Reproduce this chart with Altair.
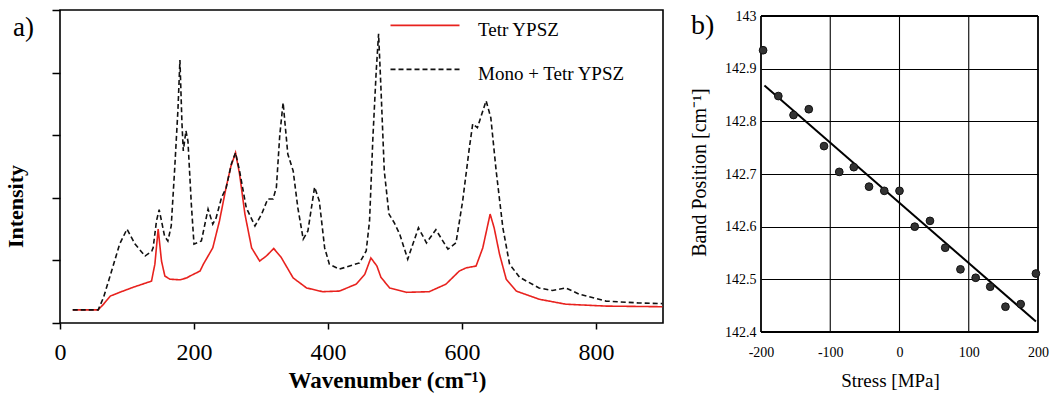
import altair as alt
import pandas as pd

SERIF = "Liberation Serif"

# ---------------- panel a) Raman spectra ----------------
series_names = ["Tetr YPSZ", "Mono + Tetr YPSZ"]

tetr_wn = [19, 57, 65, 75, 89, 109, 134, 136.6, 141.6, 146.5, 151.5, 156.5, 164, 179, 189,
           194, 209, 214, 228, 238, 248, 255, 262, 268, 276, 286, 298, 308, 319, 330, 348,
           368, 392, 417, 442, 455, 464, 473, 479, 492, 517, 551, 576, 596, 606, 621, 631,
           642, 648, 656, 666, 681, 715, 755, 815, 899]
tetr_int = [0.21, 0.21, 0.30, 0.43, 0.49, 0.57, 0.66, 0.67, 0.94, 1.50, 0.99, 0.75, 0.70, 0.69, 0.72,
            0.75, 0.83, 0.94, 1.20, 1.63, 2.17, 2.50, 2.72, 2.38, 1.74, 1.20, 0.99, 1.07, 1.19, 1.05, 0.72,
            0.56, 0.50, 0.51, 0.62, 0.78, 1.04, 0.91, 0.73, 0.56, 0.49, 0.50, 0.62, 0.83, 0.88, 0.91, 1.20,
            1.74, 1.52, 1.10, 0.70, 0.51, 0.38, 0.30, 0.27, 0.26]

mono_wn = [19, 57, 65, 77, 89, 100, 112, 127, 137, 139, 144, 148, 151.5, 156, 161, 166, 171, 176,
           179, 182, 184, 188, 191, 196, 200, 211, 221, 228, 233, 241, 248, 256, 262, 268, 278,
           291, 301, 310, 318, 323, 328, 333, 340, 348, 355, 363, 370, 380, 387, 395, 402, 417,
           447, 457, 462, 467, 472, 475.5, 479, 484, 491, 499, 507, 519, 535, 547, 561, 579, 591,
           601, 611, 616, 623, 636, 643, 651, 661, 671, 686, 715, 735, 755, 775, 815, 864, 899]
mono_int = [0.21, 0.21, 0.41, 0.83, 1.26, 1.50, 1.26, 1.07, 1.15, 1.20, 1.63, 1.81, 1.63, 1.39, 1.31, 1.55, 2.43, 3.40,
            4.20, 3.20, 2.75, 3.07, 2.90, 1.90, 1.26, 1.31, 1.82, 1.58, 1.68, 2.00, 2.16, 2.55, 2.72, 2.43, 1.84,
            1.55, 1.74, 1.98, 1.98, 2.17, 3.00, 3.52, 2.70, 2.43, 1.84, 1.34, 1.47, 2.17, 1.95, 1.20, 0.94, 0.86,
            0.96, 1.15, 1.63, 2.96, 4.03, 4.62, 3.76, 2.43, 1.74, 1.60, 1.42, 1.02, 1.52, 1.28, 1.49, 1.18, 1.28,
            1.95, 2.80, 3.18, 3.12, 3.55, 3.28, 2.43, 1.52, 0.94, 0.73, 0.56, 0.52, 0.56, 0.46, 0.35, 0.32, 0.31]

x_ticks_a = [0, 200, 400, 600, 800]
y_ticks_a = [0, 1, 2, 3, 4, 5]

# ---------------- panel b) band position vs stress ----------------
stress = [-197, -175, -153, -131, -109, -87, -66, -44, -22, 0, 22, 44, 66, 88, 110, 131, 153, 175, 197]
band = [142.935, 142.848, 142.812, 142.823, 142.753, 142.704, 142.713, 142.676, 142.668, 142.668,
        142.600, 142.611, 142.560, 142.519, 142.503, 142.486, 142.448, 142.453, 142.511]
fit_stress = [-195, 197]
fit_band = [142.868, 142.420]
x_ticks_b = [-200, -100, 0, 100, 200]
x_grid_b = [-100, 0, 100]
y_ticks_b = [142.4, 142.5, 142.6, 142.7, 142.8, 142.9, 143.0]
x_range_b = [-200, 200]
y_range_b = [142.4, 143.0]

spec_df = pd.concat([
    pd.DataFrame({"wn": tetr_wn, "intensity": tetr_int, "series": series_names[0]}),
    pd.DataFrame({"wn": mono_wn, "intensity": mono_int, "series": series_names[1]}),
])

legend_a = alt.Legend(
    title=None, orient="none", legendX=354, legendY=9.4,
    symbolType="M-3.45,-0.5H3.45", symbolSize=400, symbolStrokeWidth=1.6,
    labelFont=SERIF, labelFontSize=19, labelColor="black", labelOffset=42,
    rowPadding=23, padding=0, labelLimit=400,
)

lines = alt.Chart(spec_df).mark_line(strokeWidth=1.6).encode(
    x=alt.X("wn:Q", scale=alt.Scale(domain=[0, 900], nice=False),
            axis=alt.Axis(values=x_ticks_a, title="Wavenumber (cm⁻¹)", grid=False, domain=False,
                          tickSize=6, tickWidth=1.5, tickColor="black", labelFlush=False,
                          labelFont=SERIF, labelFontSize=24, labelColor="black", labelPadding=11,
                          titleFont=SERIF, titleFontSize=23, titleFontWeight="bold", titleColor="black",
                          titlePadding=5, titleX=327)),
    y=alt.Y("intensity:Q", scale=alt.Scale(domain=[0, 5], nice=False),
            axis=alt.Axis(values=y_ticks_a, labels=False, title="Intensity", grid=False, domain=False,
                          tickSize=8, tickWidth=1.5, tickColor="black",
                          titleFont=SERIF, titleFontSize=22, titleFontWeight="bold", titleColor="black",
                          titlePadding=24, titleY=196)),
    color=alt.Color("series:N", scale=alt.Scale(domain=series_names, range=["#e8221e", "#111111"]),
                    legend=legend_a),
    strokeDash=alt.StrokeDash("series:N", scale=alt.Scale(domain=series_names, range=[[1, 0], [5, 3]]),
                              legend=legend_a),
)

label_a = alt.Chart(pd.DataFrame({"t": ["a)"]})).mark_text(
    align="left", baseline="alphabetic", font=SERIF, fontSize=27, color="black"
).encode(text="t:N", x=alt.value(-47), y=alt.value(26))

left = alt.layer(lines, label_a).properties(
    width=603, height=313,
    view=alt.ViewBackground(stroke="black", strokeWidth=1.6, fill="white"),
)

# right panel: the view is a little taller than the framed area so that the
# frame can sit lower than panel a)'s frame, as in the original figure
pts_df = pd.DataFrame({"stress": stress, "band": band})
fit_df = pd.DataFrame({"stress": fit_stress, "band": fit_band})
vgrid_df = pd.DataFrame({"stress": x_grid_b, "band": y_range_b[0], "band_top": y_range_b[1]})
vframe_df = pd.DataFrame({"stress": x_range_b, "band": y_range_b[0], "band_top": y_range_b[1]})
hframe_df = pd.DataFrame({"band": y_range_b, "stress": x_range_b[0], "stress_end": x_range_b[1]})

xb = alt.X("stress:Q", scale=alt.Scale(domain=[-200, 200], nice=False),
           axis=alt.Axis(values=x_ticks_b, title="Stress [MPa]", grid=False, domain=False, ticks=False,
                         labelFlush=False, labelExpr="replace(datum.label, '\u2212', '-')",
                         labelFont=SERIF, labelFontSize=14, labelColor="black", labelPadding=13,
                         titleFont=SERIF, titleFontSize=19, titleFontWeight="normal", titleColor="black",
                         titlePadding=12, titleX=129))
yb = alt.Y("band:Q", scale=alt.Scale(domain=[142.4, 143.0114], nice=False, zero=False),
           axis=alt.Axis(values=y_ticks_b, format=".4~g", title="Band Position [cm⁻¹]", grid=True,
                         gridColor="black", gridWidth=1.1, gridOpacity=1, domain=False, ticks=False,
                         labelFlush=False,
                         labelFont=SERIF, labelFontSize=14, labelColor="black", labelPadding=5,
                         titleFont=SERIF, titleFontSize=20, titleFontWeight="normal", titleColor="black",
                         titlePadding=15, titleY=162))

vgrid = alt.Chart(vgrid_df).mark_rule(color="black", strokeWidth=1.1).encode(
    x=xb, y=yb, y2="band_top:Q")
vframe = alt.Chart(vframe_df).mark_rule(color="black", strokeWidth=1.8).encode(
    x=xb, y=yb, y2="band_top:Q")
hframe = alt.Chart(hframe_df).mark_rule(color="black", strokeWidth=1.8).encode(
    x=xb, x2="stress_end:Q", y=yb)
fit_line = alt.Chart(fit_df).mark_line(color="black", strokeWidth=2).encode(x=xb, y=yb)
points = alt.Chart(pts_df).mark_circle(size=60, color="#333333", opacity=1, stroke="#111111",
                                       strokeWidth=1).encode(x=xb, y=yb)
label_b = alt.Chart(pd.DataFrame({"t": ["b)"]})).mark_text(
    align="left", baseline="alphabetic", font=SERIF, fontSize=28, color="black"
).encode(text="t:N", x=alt.value(-70), y=alt.value(23.7))

right = alt.layer(vgrid, vframe, hframe, fit_line, points, label_b).properties(
    width=277, height=322,
    view=alt.ViewBackground(strokeWidth=0, fill="white"),
)

chart = alt.hconcat(left, right, spacing=22, bounds="full").properties(
    padding={"left": 3, "top": 8, "right": 3, "bottom": 0},
    background="white",
)

chart.save("out.html", embed_options={"renderer": "svg", "actions": False})
